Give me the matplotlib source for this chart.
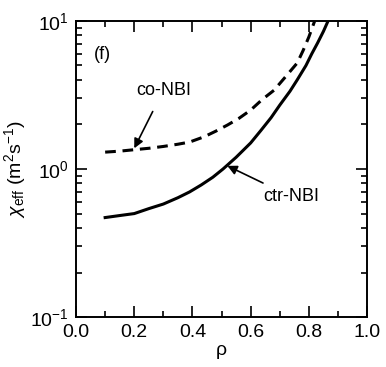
import numpy as np
import matplotlib
matplotlib.use("Agg")
from matplotlib import pyplot as plt
from matplotlib.ticker import LogLocator, MultipleLocator, NullFormatter

plt.rcParams['font.family'] = ['Liberation Sans', 'DejaVu Sans']
plt.rcParams['mathtext.fontset'] = 'custom'
plt.rcParams['mathtext.rm'] = 'Liberation Sans'
plt.rcParams['mathtext.it'] = 'Liberation Sans:italic'

# data
rho_co = [0.10, 0.15, 0.20, 0.25, 0.30, 0.35, 0.39, 0.44, 0.48, 0.52, 0.56,
          0.60, 0.64, 0.68, 0.72, 0.76, 0.78, 0.80, 0.82]
chi_co = [1.30, 1.32, 1.35, 1.38, 1.42, 1.47, 1.52, 1.65, 1.80, 1.98, 2.20,
          2.50, 2.95, 3.40, 4.20, 5.20, 6.30, 7.80, 10.0]

rho_ctr = [0.10, 0.15, 0.20, 0.25, 0.30, 0.35, 0.39, 0.43, 0.47, 0.505, 0.55,
           0.60, 0.635, 0.67, 0.70, 0.735, 0.76, 0.79, 0.81, 0.83, 0.85, 0.866]
chi_ctr = [0.47, 0.485, 0.50, 0.54, 0.58, 0.64, 0.70, 0.78, 0.88, 1.00, 1.20,
           1.50, 1.82, 2.22, 2.70, 3.35, 4.00, 5.00, 6.00, 7.10, 8.50, 10.0]

fig = plt.figure(figsize=(3.86, 3.67), dpi=100)
ax = fig.add_axes([0.197, 0.136, 0.754, 0.807])

ax.plot(rho_co, chi_co, color='black', lw=2.2, ls=(0, (3.5, 2.2)))
ax.plot(rho_ctr, chi_ctr, color='black', lw=2.2)

ax.set_yscale('log')
ax.set_xlim(0, 1)
ax.set_ylim(0.1, 10)
ax.xaxis.set_minor_locator(MultipleLocator(0.1))
ax.yaxis.set_major_locator(LogLocator(base=10))
ax.yaxis.set_minor_locator(LogLocator(base=10, subs=np.arange(2, 10)))
ax.yaxis.set_minor_formatter(NullFormatter())
ax.set_xticks([0, 0.2, 0.4, 0.6, 0.8, 1.0])
ax.set_xticklabels(['0.0', '0.2', '0.4', '0.6', '0.8', '1.0'])
ax.tick_params(which='both', direction='in', top=True, right=True, labelsize=14, width=1.2)
ax.tick_params(which='major', length=8, pad=5)
ax.tick_params(which='minor', length=4)
for s in ax.spines.values():
    s.set_linewidth(1.4)

ax.set_xlabel('ρ', fontsize=14, labelpad=1)
ax.set_ylabel(r'$\chi_{\rm eff}$ (m$^2$s$^{-1}$)', fontsize=14, labelpad=2)

ax.text(0.06, 0.87, '(f)', transform=ax.transAxes, fontsize=13)
ax.annotate('co-NBI', xy=(0.2, 1.38), xytext=(0.3, 3.4), fontsize=13,
            ha='center', va='center',
            arrowprops=dict(arrowstyle='-|>', color='black', lw=1.2, shrinkA=8, shrinkB=0,
                            mutation_scale=14))
ax.annotate('ctr-NBI', xy=(0.52, 1.05), xytext=(0.74, 0.65), fontsize=13,
            ha='center', va='center',
            arrowprops=dict(arrowstyle='-|>', color='black', lw=1.2, shrinkA=4, shrinkB=0,
                            mutation_scale=14))

fig.savefig('out.png', dpi=100)
